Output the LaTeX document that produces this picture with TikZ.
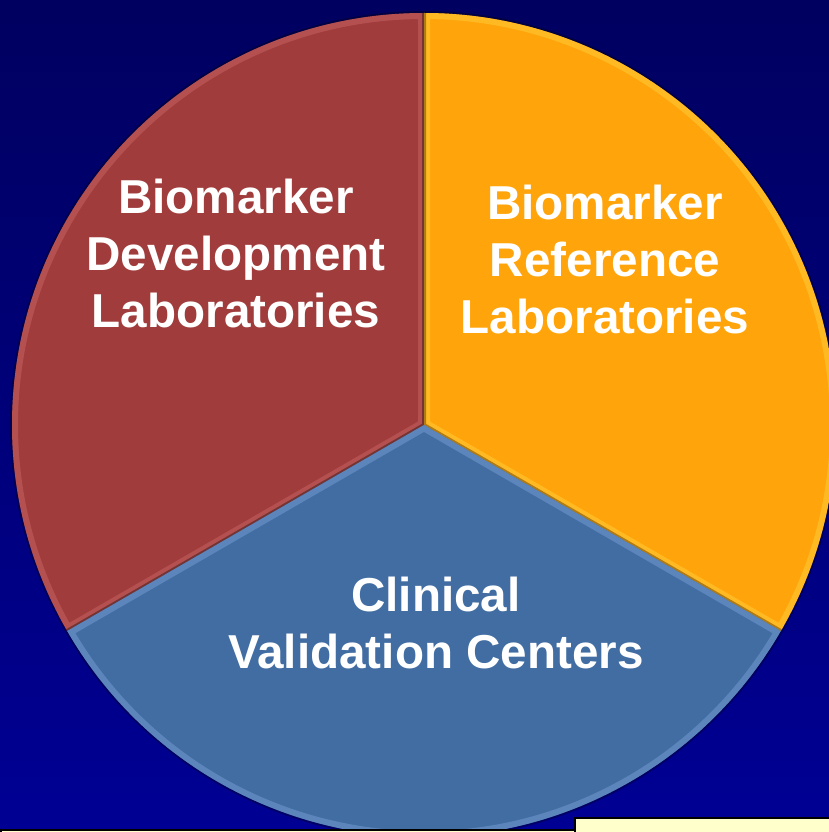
\documentclass[tikz,border=0pt]{standalone}
\usepackage{fontspec}
\setmainfont{Liberation Sans}
\definecolor{bgtop}{HTML}{000060}
\definecolor{bgbot}{HTML}{000094}
\definecolor{redsec}{HTML}{A03C3C}
\definecolor{redhi}{HTML}{C86464}
\definecolor{orsec}{HTML}{FFA40A}
\definecolor{orhi}{HTML}{FFC832}
\definecolor{blsec}{HTML}{416DA2}
\definecolor{blhi}{HTML}{6E96CC}
\definecolor{boxfill}{HTML}{FFFFCC}
\tikzset{
  lbl/.style={text=white, font=\bfseries\fontsize{23.8}{28.5}\selectfont, align=center, inner sep=0pt},
  notebox/.style={draw=black, line width=1.2pt, fill=boxfill}
}
\begin{document}
\begin{tikzpicture}[x=0.5pt,y=0.5pt]
\useasboundingbox (0,0) rectangle (829,832);
\clip (0,0) rectangle (829,832);
\shade[top color=bgtop, bottom color=bgbot] (0,0) rectangle (829,832);
\coordinate (c) at (424,407);
% shadow ring
\fill[black, opacity=0.3] (c) circle[radius=414];
\def\redpath{(c) -- ++(90:412) arc[start angle=90, end angle=210, radius=412] -- cycle}
\def\orpath{(c) -- ++(-30:412) arc[start angle=-30, end angle=90, radius=412] -- cycle}
\def\blpath{(c) -- ++(210:412) arc[start angle=210, end angle=330, radius=412] -- cycle}
\fill[redsec] \redpath;
\begin{scope}\clip \redpath; \draw[redhi, line width=6, opacity=0.5] \redpath; \draw[black, line width=2, opacity=0.35] (c) -- ++(90:412) (c) -- ++(210:412);\end{scope}
\fill[orsec] \orpath;
\begin{scope}\clip \orpath; \draw[orhi, line width=6, opacity=0.6] \orpath; \draw[black!70!orsec, line width=2, opacity=0.45] (c) -- ++(90:412) (c) -- ++(-30:412);\end{scope}
\fill[blsec] \blpath;
\begin{scope}\clip \blpath; \draw[blhi, line width=6, opacity=0.6] \blpath;\end{scope}
% labels
\node[lbl] (dev) at (236,579) {Biomarker\\Development\\Laboratories};
\node[lbl] (ref) at (605,573) {Biomarker\\Reference\\Laboratories};
\node[lbl] (clin) at (436,209) {Clinical\\Validation Centers};
% bottom boxes
\node[notebox, minimum width=290, minimum height=20, anchor=north west, inner sep=0pt] (boxl) at (0,3) {};
\node[notebox, minimum width=270, minimum height=40, anchor=north west, inner sep=0pt] (boxr) at (574,15) {};
\end{tikzpicture}
\end{document}
